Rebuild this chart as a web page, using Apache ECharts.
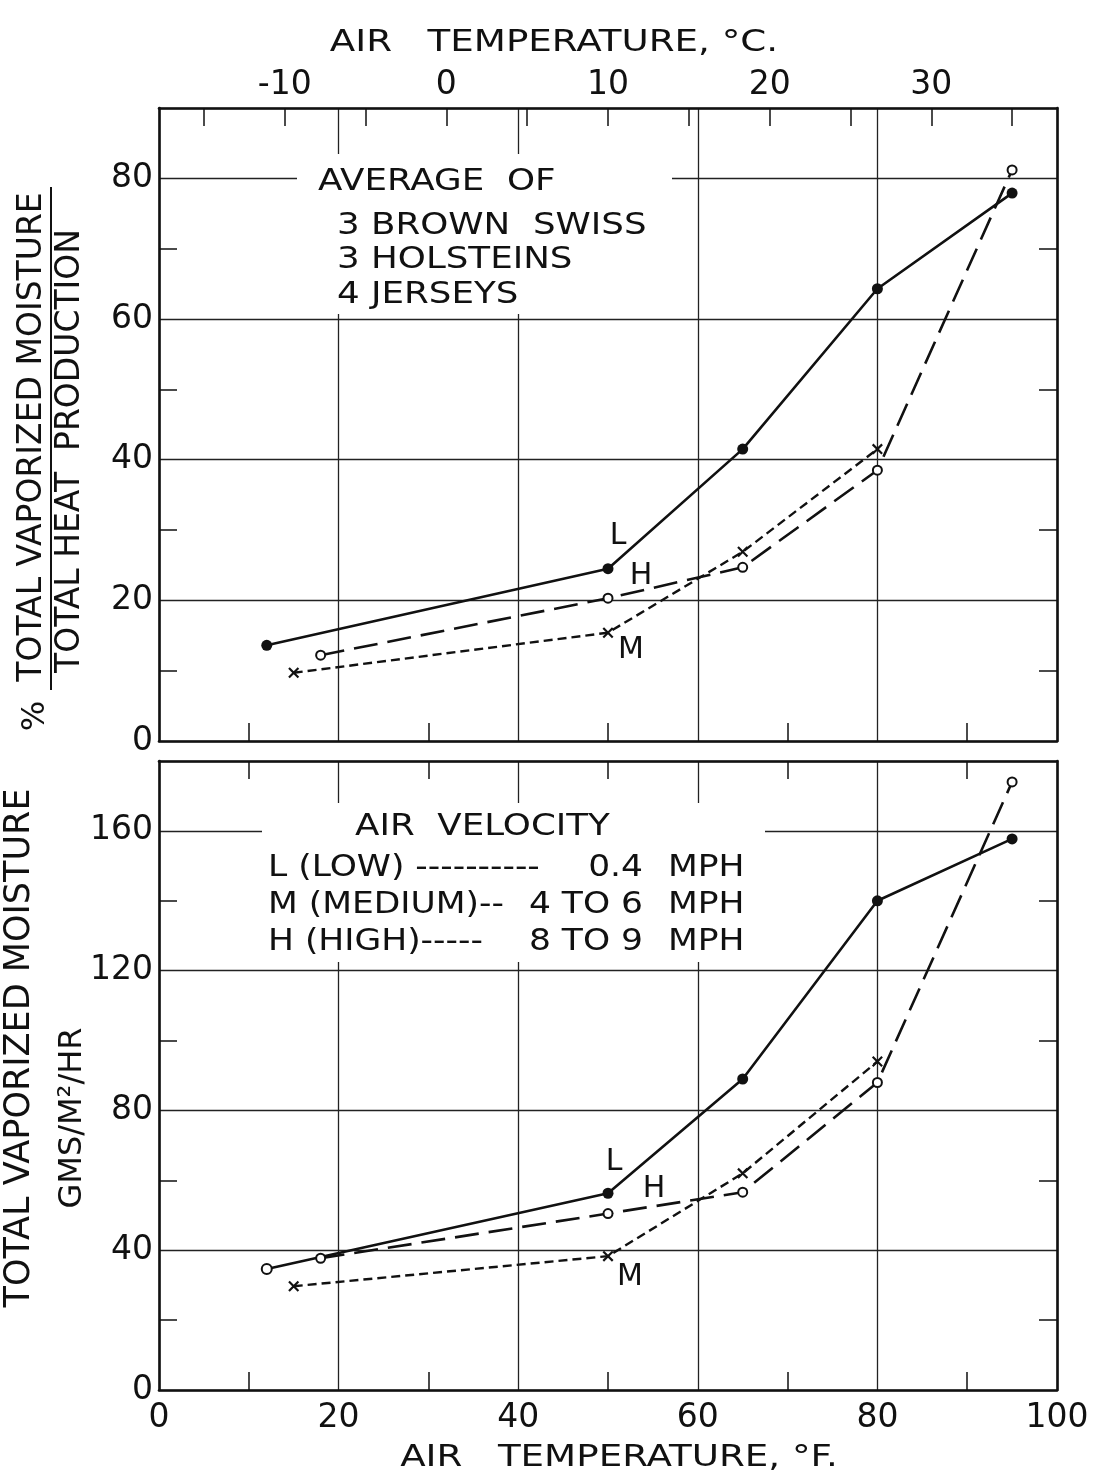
<!DOCTYPE html>
<html>
<head>
<meta charset="utf-8">
<script src="https://cdn.jsdelivr.net/npm/echarts@6/dist/echarts.min.js"></script>
<style>
  html, body { margin: 0; padding: 0; background: #fff; }
  #chart { width: 1094px; height: 1479px; }
</style>
</head>
<body>
<div id="chart"></div>
<script>
// 上图: 蒸发水分 / 总产热 (%)
const topTempL = [12, 50, 65, 80, 95];
const topRatioL = [13.6, 24.5, 41.5, 64.3, 77.9];
const topTempH = [18, 50, 65, 80, 95];
const topRatioH = [12.2, 20.3, 24.7, 38.5, 81.2];
const topTempM = [15, 50, 65, 80];
const topRatioM = [9.7, 15.4, 26.9, 41.5];

// 下图: 总蒸发水分 GMS/M2/HR
const botTempL = [12, 50, 65, 80, 95];
const botMoistL = [34.6, 56.3, 89, 140, 157.7];
const botTempH = [18, 50, 65, 80, 95];
const botMoistH = [37.7, 50.5, 56.6, 88, 174];
const botTempM = [15, 50, 65, 80];
const botMoistM = [29.7, 38.3, 62, 94];

// 刻度
const fMinorTicks = [10, 30, 50, 70, 90];
const cTicks = [-15, -10, -5, 0, 5, 10, 15, 20, 25, 30, 35];
const cLabels = [-10, 0, 10, 20, 30];
const topMinorTicks = [10, 30, 50, 70];
const botMinorTicks = [20, 60, 100, 140];

const FONT = 'DejaVu Sans';
const INK = '#111';

const chart = echarts.init(document.getElementById('chart'), null, { renderer: 'canvas' });

const crossPath = 'path://M0,1.4L1.4,0L10,8.6L8.6,10Z M8.6,0L10,1.4L1.4,10L0,8.6Z';

function pts(temps, vals, tag, offset, firstOpen) {
  return temps.map((t, i) => {
    const item = { value: [t, vals[i]] };
    if (tag && t === 50) {
      item.label = {
        show: true, formatter: tag, position: 'inside', offset: offset,
        color: INK, fontFamily: FONT, fontSize: 30, align: 'center', verticalAlign: 'middle'
      };
    }
    if (firstOpen && i === 0) {
      item.symbol = 'emptyCircle';
      item.symbolSize = 10;
      item.itemStyle = { color: INK, borderWidth: 1.6 };
    }
    return item;
  });
}

function lineL(xi, yi, data) {
  return {
    type: 'line', xAxisIndex: xi, yAxisIndex: yi, data: data,
    symbol: 'circle', symbolSize: 11, itemStyle: { color: INK },
    lineStyle: { color: INK, width: 2.6 }, animation: false
  };
}
function lineH(xi, yi, data) {
  return {
    type: 'line', xAxisIndex: xi, yAxisIndex: yi, data: data,
    symbol: 'emptyCircle', symbolSize: 9, itemStyle: { color: INK, borderWidth: 1.6 },
    lineStyle: { color: INK, width: 2.6, type: [24, 10] }, animation: false
  };
}
function lineM(xi, yi, data) {
  return {
    type: 'line', xAxisIndex: xi, yAxisIndex: yi, data: data,
    symbol: crossPath, symbolSize: 11, itemStyle: { color: INK },
    lineStyle: { color: INK, width: 2.4, type: [9, 5] }, animation: false
  };
}

const border = { show: true, onZero: false, lineStyle: { color: INK, width: 2.6 } };
const noLine = { show: false, onZero: false };
const grid = { show: true, lineStyle: { color: '#222', width: 1.3 } };
const tick = (vals) => ({ show: true, inside: true, length: 18, customValues: vals, lineStyle: { color: INK, width: 1.5 } });
const label = (m) => ({ color: INK, fontFamily: FONT, fontSize: 33, margin: m });
const off = { show: false };

// 主轴: 网格线 + 标签; 副轴: 只画次刻度
function mainAxis(gi, pos, max, step, lab) {
  return { gridIndex: gi, type: 'value', position: pos, min: 0, max: max, interval: step,
    axisLine: border, axisTick: off, axisLabel: lab, splitLine: grid };
}
function minorAxis(gi, pos, max, ticks, showLine) {
  return { gridIndex: gi, type: 'value', position: pos, min: 0, max: max,
    axisLine: showLine ? border : noLine, axisTick: tick(ticks), axisLabel: off, splitLine: off };
}

function txt(x, y, s, size, align, rot, sx) {
  return {
    type: 'text', x: x, y: y, z: 5, rotation: rot || 0, scaleX: sx || 1,
    style: { text: s, fill: INK, font: (size || 31) + 'px "' + FONT + '"', align: align || 'left', verticalAlign: 'middle' }
  };
}
const W = 1.15;

chart.setOption({
  backgroundColor: '#fff',
  animation: false,
  grid: [
    { left: 159, top: 108, width: 898, height: 633 },
    { left: 159, top: 761, width: 898, height: 629 }
  ],
  xAxis: [
    mainAxis(0, 'bottom', 100, 20, off),
    minorAxis(0, 'bottom', 100, fMinorTicks, false),
    { gridIndex: 0, type: 'value', position: 'top', min: -160 / 9, max: 340 / 9,
      axisLine: border, axisTick: tick(cTicks),
      axisLabel: Object.assign(label(6), { customValues: cLabels }), splitLine: off },
    mainAxis(1, 'bottom', 100, 20, label(12)),
    minorAxis(1, 'bottom', 100, fMinorTicks, false),
    minorAxis(1, 'top', 100, fMinorTicks, true)
  ],
  yAxis: [
    mainAxis(0, 'left', 90, 20, Object.assign(label(6), { showMaxLabel: false })),
    minorAxis(0, 'left', 90, topMinorTicks, false),
    minorAxis(0, 'right', 90, topMinorTicks, true),
    mainAxis(1, 'left', 180, 40, Object.assign(label(6), { showMaxLabel: false })),
    minorAxis(1, 'left', 180, botMinorTicks, false),
    minorAxis(1, 'right', 180, botMinorTicks, true)
  ],
  series: [
    lineL(0, 0, pts(topTempL, topRatioL, 'L', [10, -32])),
    lineH(0, 0, pts(topTempH, topRatioH, 'H', [33, -22])),
    lineM(0, 0, pts(topTempM, topRatioM, 'M', [23, 18])),
    lineL(3, 3, pts(botTempL, botMoistL, 'L', [6, -31], true)),
    lineH(3, 3, pts(botTempH, botMoistH, 'H', [46, -24])),
    lineM(3, 3, pts(botTempM, botMoistM, 'M', [22, 21]))
  ],
  graphic: [
    // 文字块下面的白底, 断开网格线
    { type: 'rect', z: 1, shape: { x: 297, y: 154, width: 375, height: 160 }, style: { fill: '#fff' } },
    { type: 'rect', z: 1, shape: { x: 262, y: 803, width: 503, height: 159 }, style: { fill: '#fff' } },

    txt(554, 43, 'AIR   TEMPERATURE, °C.', 31, 'center', 0, 1.2),
    txt(619, 1458, 'AIR   TEMPERATURE, °F.', 31, 'center', 0, 1.2),

    txt(318, 182, 'AVERAGE  OF', 31, 'left', 0, W),
    txt(337, 226, '3 BROWN  SWISS', 31, 'left', 0, W),
    txt(337, 260, '3 HOLSTEINS', 31, 'left', 0, W),
    txt(337, 295, '4 JERSEYS', 31, 'left', 0, W),

    txt(355, 827, 'AIR  VELOCITY', 31, 'left', 0, W),
    txt(268, 868, 'L (LOW) ----------', 30, 'left', 0, W),
    txt(643, 868, '0.4', 30, 'right', 0, W),
    txt(668, 868, 'MPH', 30, 'left', 0, W),
    txt(268, 905, 'M (MEDIUM)--', 30, 'left', 0, W),
    txt(643, 905, '4 TO 6', 30, 'right', 0, W),
    txt(668, 905, 'MPH', 30, 'left', 0, W),
    txt(268, 942, 'H (HIGH)-----', 30, 'left', 0, W),
    txt(643, 942, '8 TO 9', 30, 'right', 0, W),
    txt(668, 942, 'MPH', 30, 'left', 0, W),

    // 上图纵轴: % 分式
    txt(32, 437, 'TOTAL VAPORIZED MOISTURE', 33, 'center', Math.PI / 2),
    txt(70, 451, 'TOTAL HEAT  PRODUCTION', 33, 'center', Math.PI / 2),
    { type: 'line', z: 5, shape: { x1: 51, y1: 187, x2: 51, y2: 690 }, style: { stroke: INK, lineWidth: 2 } },
    txt(36, 716, '%', 32, 'center', Math.PI / 2),

    // 下图纵轴
    txt(20, 1048, 'TOTAL VAPORIZED MOISTURE', 35, 'center', Math.PI / 2),
    txt(73, 1118, 'GMS/M²/HR', 32, 'center', Math.PI / 2)
  ]
});
</script>
</body>
</html>
